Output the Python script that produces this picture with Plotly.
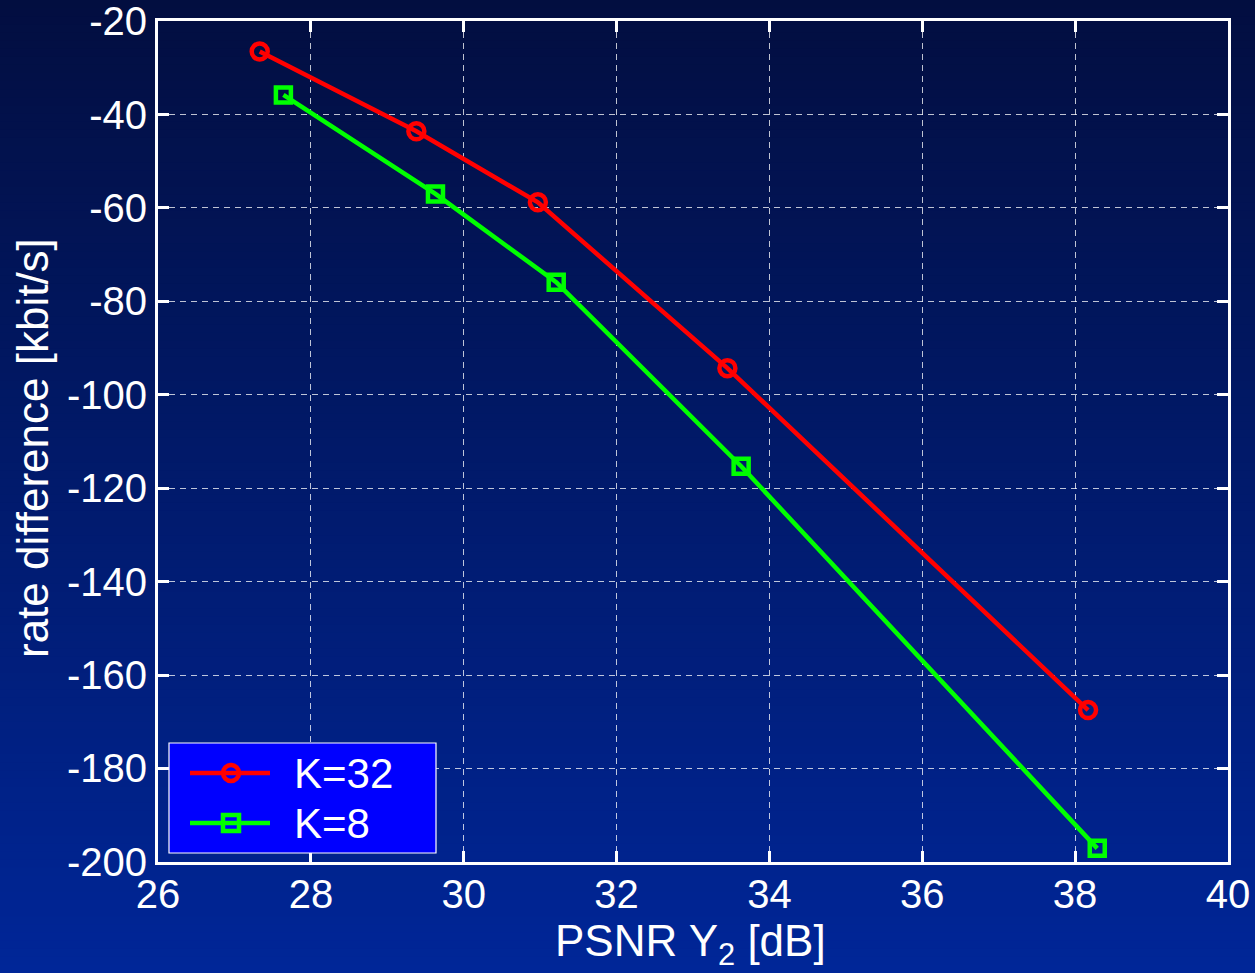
import plotly.graph_objects as go

# ---------------- data ----------------
series_names = ["K=32", "K=8"]
psnr_k32 = [27.33, 29.38, 30.97, 33.45, 38.17]
rate_k32 = [-26.5, -43.6, -58.8, -94.3, -167.5]
psnr_k8 = [27.64, 29.63, 31.21, 33.63, 38.29]
rate_k8 = [-35.8, -57.0, -75.9, -115.3, -197.1]
x_ticks = [26, 28, 30, 32, 34, 36, 38, 40]
y_ticks = [-200, -180, -160, -140, -120, -100, -80, -60, -40, -20]

# ---------------- layout geometry ----------------
W, H = 1255, 973
L, R, T, B = 158, 27, 21, 111
PW, PH = W - L - R, H - T - B
FONT = "Arial, Liberation Sans, Helvetica, sans-serif"

def px_x(p):
    return (p - L) / PW

def px_y(p):
    return (H - B - p) / PH

fig = go.Figure()

fig.add_trace(go.Scatter(
    x=psnr_k32, y=rate_k32, mode="lines+markers", name=series_names[0],
    line=dict(color="#ff0000", width=4.5),
    marker=dict(symbol="circle-open", size=16, color="#ff0000",
                line=dict(width=4.5, color="#ff0000")),
    showlegend=False, cliponaxis=False,
))
fig.add_trace(go.Scatter(
    x=psnr_k8, y=rate_k8, mode="lines+markers", name=series_names[1],
    line=dict(color="#00ff00", width=4.5),
    marker=dict(symbol="square-open", size=15, color="#00ff00",
                line=dict(width=4.5, color="#00ff00")),
    showlegend=False, cliponaxis=False,
))

shapes = []
# background gradient (dark navy at top -> brighter blue at bottom)
top_c = (2, 14, 64)
bot_c = (0, 38, 152)
n = 120
for i in range(n):
    y0p = H * i / n
    y1p = H * (i + 1) / n + 1.5
    t = (i + 0.5) / n
    c = tuple(round(top_c[k] + (bot_c[k] - top_c[k]) * t) for k in range(3))
    shapes.append(dict(type="rect", xref="paper", yref="paper",
                       x0=px_x(-2), x1=px_x(W + 2), y0=px_y(y1p), y1=px_y(y0p),
                       fillcolor="rgb(%d,%d,%d)" % c, line=dict(width=0),
                       layer="below"))

# manual legend
shapes.append(dict(type="rect", xref="paper", yref="paper",
                   x0=px_x(169), x1=px_x(436), y0=px_y(853), y1=px_y(743),
                   fillcolor="#0000ff", line=dict(color="white", width=1.2),
                   layer="above"))
leg_rows = [773, 823]
leg_cols = ["#ff0000", "#00ff00"]
for row, col in zip(leg_rows, leg_cols):
    shapes.append(dict(type="line", xref="paper", yref="paper",
                       x0=px_x(190), x1=px_x(270), y0=px_y(row), y1=px_y(row),
                       line=dict(color=col, width=4.5), layer="above"))
shapes.append(dict(type="circle", xref="paper", yref="paper",
                   x0=px_x(223), x1=px_x(239), y0=px_y(781), y1=px_y(765),
                   fillcolor="rgba(0,0,0,0)", line=dict(color="#ff0000", width=4.5),
                   layer="above"))
shapes.append(dict(type="rect", xref="paper", yref="paper",
                   x0=px_x(223), x1=px_x(239), y0=px_y(831), y1=px_y(815),
                   fillcolor="rgba(0,0,0,0)", line=dict(color="#00ff00", width=4.5),
                   layer="above"))

annotations = []
for row, name in zip(leg_rows, series_names):
    annotations.append(dict(text=name, xref="paper", yref="paper",
                            x=px_x(292), y=px_y(row), xanchor="left", yanchor="middle",
                            showarrow=False, font=dict(size=42, color="white", family=FONT)))
# axis titles
annotations.append(dict(text="rate difference [kbit/s]", xref="paper", yref="paper",
                        x=px_x(32), y=px_y(448), xanchor="center", yanchor="middle",
                        textangle=-90, showarrow=False,
                        font=dict(size=44, color="white", family=FONT)))
annotations.append(dict(text="PSNR Y<sub>2</sub> [dB]", xref="paper", yref="paper",
                        x=px_x(690), y=px_y(944), xanchor="center", yanchor="middle",
                        showarrow=False,
                        font=dict(size=44, color="white", family=FONT)))

axis_common = dict(
    showline=True, linecolor="white", linewidth=3, mirror="ticks",
    ticks="inside", ticklen=11, tickwidth=3, tickcolor="white",
    showgrid=True, gridcolor="rgba(255,255,255,0.75)", gridwidth=1,
    griddash="6px,5px", zeroline=False, ticklabeloverflow="allow",
    automargin=False,
    tickfont=dict(size=40, color="white", family=FONT),
)

fig.update_layout(
    width=W, height=H,
    margin=dict(l=L, r=R, t=T, b=B, pad=0, autoexpand=False),
    paper_bgcolor="rgb(0,38,152)",
    plot_bgcolor="rgba(0,0,0,0)",
    font=dict(family=FONT, color="white"),
    showlegend=False,
    shapes=shapes,
    annotations=annotations,
    xaxis=dict(range=[25.999, 40.001], tickvals=x_ticks, ticktext=[str(v) for v in x_ticks],
               ticklabelstandoff=-5, **axis_common),
    yaxis=dict(range=[-200.02, -19.98], tickvals=y_ticks, ticktext=[str(v) for v in y_ticks],
               **axis_common),
)

fig.write_html("out.html", config={"displayModeBar": False},
               post_script="document.body.style.margin='0';document.body.style.overflow='hidden';")
